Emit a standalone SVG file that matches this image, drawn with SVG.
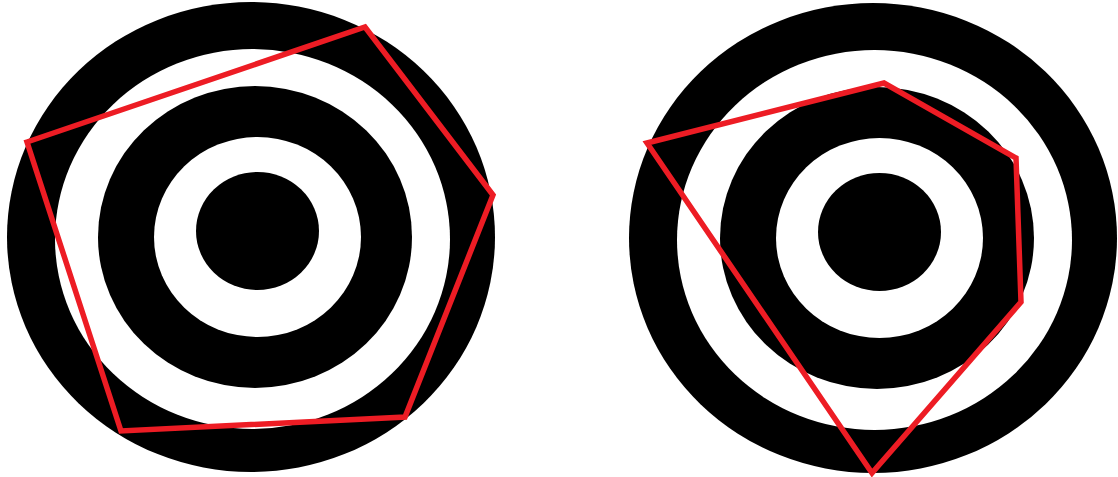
<svg xmlns="http://www.w3.org/2000/svg" width="1118" height="477" viewBox="0 0 1118 477">
<defs>
<style>
.b{fill:#000}
.w{fill:#fff}
.r{fill:none;stroke:#ED1C24;stroke-width:5.5;stroke-linejoin:miter;stroke-miterlimit:10}
</style>
<g id="target">
<ellipse class="b" cx="251" cy="237" rx="244" ry="235"/>
<ellipse class="w" cx="252.5" cy="239" rx="197.5" ry="190"/>
<ellipse class="b" cx="255" cy="237" rx="157" ry="151"/>
<ellipse class="w" cx="257.5" cy="237" rx="103.5" ry="100"/>
<ellipse class="b" cx="257.5" cy="231" rx="61.5" ry="59"/>
</g>
</defs>
<rect width="1118" height="477" fill="#fff"/>
<g id="left-target">
<use href="#target"/>
<polygon class="r" points="27,142 365,27 493,195 405,417 121,431"/>
</g>
<g id="right-target">
<use href="#target" transform="translate(622,1)"/>
<polygon class="r" points="647,143 884,83 1016,158 1021,302 872,473"/>
</g>
</svg>
